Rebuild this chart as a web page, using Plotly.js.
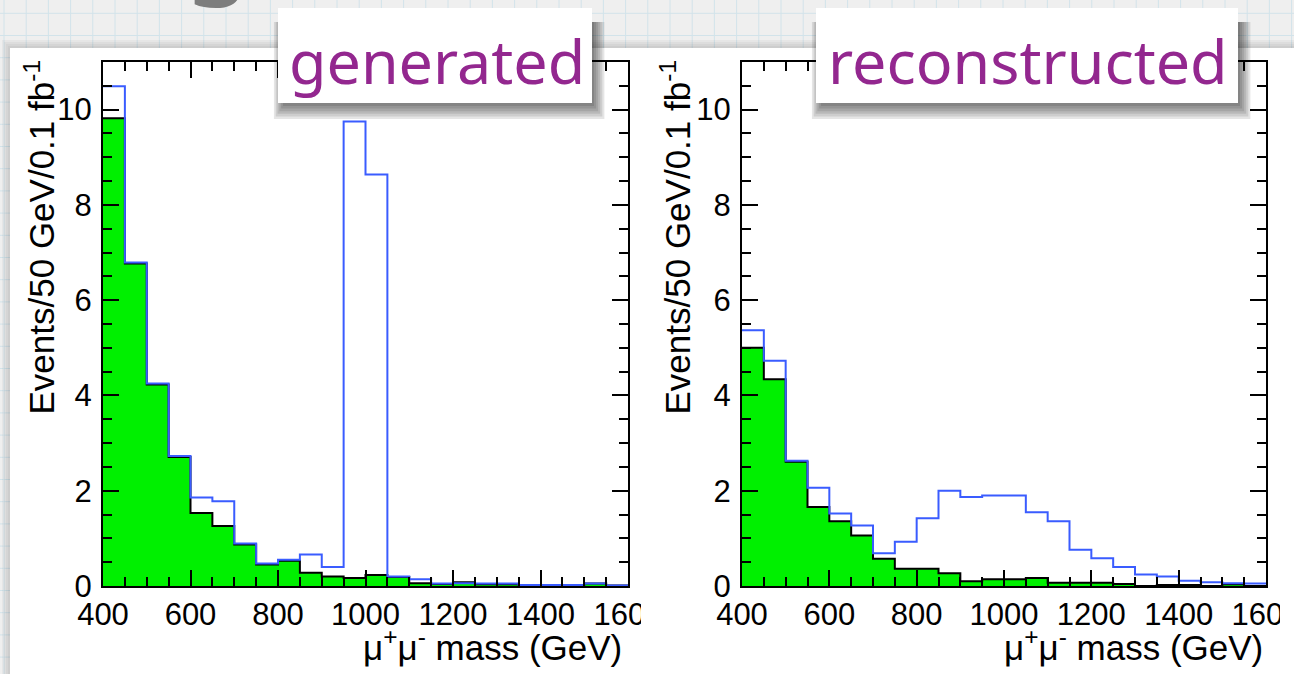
<!DOCTYPE html>
<html>
<head>
<meta charset="utf-8">
<script src="https://cdn.plot.ly/plotly-3.0.1.min.js"></script>
<style>html,body{margin:0;padding:0;background:#efefef;}#chart{width:1294px;height:674px;}</style>
</head>
<body>
<div id="chart"></div>
<script>
// ---- data (events / 50 GeV / 0.1 fb^-1) ----
const binEdges = [400, 450, 500, 550, 600, 650, 700, 750, 800, 850, 900, 950, 1000,
                  1050, 1100, 1150, 1200, 1250, 1300, 1350, 1400, 1450, 1500, 1550, 1600];
// generated: background only (green) and signal + background (blue)
const genBackground = [9.82, 6.77, 4.23, 2.71, 1.53, 1.26, 0.87, 0.45, 0.53, 0.28, 0.20, 0.17,
                       0.23, 0.19, 0.06, 0.04, 0.08, 0.035, 0.035, 0.02, 0.01, 0.01, 0.05, 0.01];
const genTotal      = [10.49, 6.79, 4.25, 2.73, 1.86, 1.78, 0.89, 0.47, 0.55, 0.66, 0.40, 9.75,
                       8.64, 0.20, 0.14, 0.05, 0.06, 0.05, 0.05, 0.02, 0.02, 0.02, 0.05, 0.01];
// reconstructed
const recoBackground = [5.00, 4.34, 2.61, 1.66, 1.36, 1.06, 0.57, 0.36, 0.36, 0.27, 0.10, 0.14,
                        0.14, 0.17, 0.07, 0.07, 0.07, 0.04, 0.0, 0.02, 0.02, 0.0, 0.035, 0.0];
const recoTotal      = [5.37, 4.73, 2.63, 2.06, 1.52, 1.27, 0.69, 0.93, 1.42, 2.00, 1.87, 1.90,
                        1.90, 1.55, 1.36, 0.76, 0.58, 0.40, 0.24, 0.20, 0.11, 0.08, 0.06, 0.05];
const xTickVals = [400, 600, 800, 1000, 1200, 1400, 1600];
const xTickText = ['400', '600', '800', '1000', '1200', '1400', '1600'];
const yTickVals = [0, 2, 4, 6, 8, 10];
const panelLabels = ['generated', 'reconstructed'];
const xTitle = 'μ<sup>+</sup>μ<sup>-</sup> mass (GeV)';
const yTitle = 'Events/50 GeV/0.1 fb<sup>-1</sup>';

// ---- helpers ----
const W = 1294, H = 674;
const px = x => x / W;
const py = y => 1 - y / H;
const stepY = v => v.concat([v[v.length - 1]]);

const GREEN = '#00f000', BLUE = '#3a5cff';
function histTraces(bkg, tot, xa, ya) {
  return [
    {type: 'scatter', mode: 'lines', x: binEdges, y: stepY(bkg), xaxis: xa, yaxis: ya,
     line: {shape: 'hv', color: '#000', width: 2}, fill: 'tozeroy', fillcolor: GREEN,
     hoverinfo: 'skip', showlegend: false},
    {type: 'scatter', mode: 'lines', x: binEdges, y: stepY(tot), xaxis: xa, yaxis: ya,
     line: {shape: 'hv', color: BLUE, width: 2}, hoverinfo: 'skip', showlegend: false}
  ];
}

const tickFont = {family: 'Liberation Sans, Arial, sans-serif', size: 31, color: '#000'};
function xAxis(d0, d1, anchor) {
  return {domain: [px(d0), px(d1)], anchor: anchor, range: [400, 1600], fixedrange: true,
    showgrid: false, zeroline: false, showline: true, linecolor: '#000', linewidth: 2,
    mirror: 'ticks', ticks: 'inside', ticklen: 16, tickwidth: 2, tickcolor: '#000',
    tickvals: xTickVals, ticktext: xTickText, tickfont: tickFont, tickangle: 0,
    ticklabeloverflow: 'allow',
    minor: {dtick: 50, tick0: 400, ticks: 'inside', ticklen: 9, tickwidth: 2, tickcolor: '#000', showgrid: false}};
}
function yAxis(anchor) {
  return {domain: [py(586), py(62)], anchor: anchor, range: [0, 11], fixedrange: true,
    showgrid: false, zeroline: false, showline: true, linecolor: '#000', linewidth: 2,
    mirror: 'ticks', ticks: 'inside', ticklen: 16, tickwidth: 2, tickcolor: '#000',
    tickvals: yTickVals, tickfont: tickFont, ticklabeloverflow: 'allow', ticklabelstandoff: 3,
    minor: {dtick: 0.5, tick0: 0, ticks: 'inside', ticklen: 9, tickwidth: 2, tickcolor: '#000', showgrid: false}};
}

// ---- decorative slide background: grid paper + white panel ----
const shapes = [];
for (let x = 4; x < W; x += 22.2)
  shapes.push({type: 'line', xref: 'paper', yref: 'paper', x0: px(x), x1: px(x), y0: 0, y1: 1,
               line: {color: '#d2e3ea', width: 1}, layer: 'below'});
for (let y = 13.3; y < H; y += 22.2)
  shapes.push({type: 'line', xref: 'paper', yref: 'paper', x0: 0, x1: 1, y0: py(y), y1: py(y),
               line: {color: '#d2e3ea', width: 1}, layer: 'below'});
// soft shadow above / left of the panel
for (let k = 0; k < 5; k++)
  shapes.push({type: 'rect', xref: 'paper', yref: 'paper', x0: px(10 - 2 * k), x1: 1,
               y0: 0, y1: py(48 - 2 * k), fillcolor: 'rgba(0,0,0,0.035)', line: {width: 0}, layer: 'below'});
shapes.push({type: 'rect', xref: 'paper', yref: 'paper', x0: px(10), x1: 1, y0: 0, y1: py(48),
             fillcolor: '#ffffff', line: {width: 0}, layer: 'below'});

// clip the overflowing "1600" labels like the original canvas edge
shapes.push({type: 'rect', xref: 'paper', yref: 'paper', x0: px(641), x1: px(668), y0: py(634), y1: py(590),
             fillcolor: '#ffffff', line: {width: 0}, layer: 'above'});
shapes.push({type: 'rect', xref: 'paper', yref: 'paper', x0: px(1280), x1: 1, y0: py(634), y1: py(590),
             fillcolor: '#ffffff', line: {width: 0}, layer: 'above'});

// label boxes with drop shadows (shadow falls below and to the sides)
const boxes = [[278, 8, 592, 103], [816, 8, 1238, 103]];
boxes.forEach(b => {
  for (let k = 0; k < 6; k++) {
    const s = 2.6 * k;
    shapes.push({type: 'rect', xref: 'paper', yref: 'paper',
      x0: px(b[0] + 5 - 0.7 * s), x1: px(b[2] + 2 + 0.8 * s), y0: py(b[3] + 3 + s), y1: py(b[1] + 14),
      fillcolor: 'rgba(0,0,0,0.10)', line: {width: 0}, layer: 'above'});
  }
  shapes.push({type: 'rect', xref: 'paper', yref: 'paper', x0: px(b[0]), x1: px(b[2]), y0: py(b[3]), y1: py(b[1]),
               fillcolor: '#ffffff', line: {width: 0}, layer: 'above'});
});

const titleFont = {family: 'Liberation Sans, Arial, sans-serif', size: 35, color: '#000'};
const labelFont = {family: 'Noto Sans, sans-serif', size: 61, color: '#93278f'};
const annotations = [
  {text: panelLabels[0], xref: 'paper', yref: 'paper', x: px(436.5), y: py(61), xanchor: 'center', yanchor: 'middle', showarrow: false, font: labelFont},
  {text: panelLabels[1], xref: 'paper', yref: 'paper', x: px(1027.5), y: py(61), xanchor: 'center', yanchor: 'middle', showarrow: false, font: labelFont},
  {text: xTitle, xref: 'paper', yref: 'paper', x: px(624), y: py(645), xanchor: 'right', yanchor: 'middle', showarrow: false, font: titleFont},
  {text: xTitle, xref: 'paper', yref: 'paper', x: px(1265), y: py(645), xanchor: 'right', yanchor: 'middle', showarrow: false, font: titleFont},
  {text: yTitle, xref: 'paper', yref: 'paper', x: px(39), y: py(58), xanchor: 'center', yanchor: 'top', textangle: -90, showarrow: false, font: titleFont},
  {text: yTitle, xref: 'paper', yref: 'paper', x: px(675), y: py(58), xanchor: 'center', yanchor: 'top', textangle: -90, showarrow: false, font: titleFont},
  // fragment of the slide title peeking in at the top edge
  {text: 'g', xref: 'paper', yref: 'paper', x: px(218), y: py(16), xanchor: 'center', yanchor: 'bottom', showarrow: false,
   font: {family: 'Noto Sans, sans-serif', size: 110, color: '#7d7d7d'}}
];

const data = [].concat(
  histTraces(genBackground, genTotal, 'x', 'y'),
  histTraces(recoBackground, recoTotal, 'x2', 'y2')
);

const layout = {
  width: W, height: H, margin: {l: 0, r: 0, t: 0, b: 0, pad: 0},
  paper_bgcolor: '#efefef', plot_bgcolor: '#ffffff', showlegend: false,
  xaxis: xAxis(103, 628, 'y'), yaxis: yAxis('x'),
  xaxis2: xAxis(742, 1266, 'y2'), yaxis2: yAxis('x2'),
  shapes: shapes, annotations: annotations
};

Plotly.newPlot('chart', data, layout, {displayModeBar: false, staticPlot: true});
</script>
</body>
</html>
